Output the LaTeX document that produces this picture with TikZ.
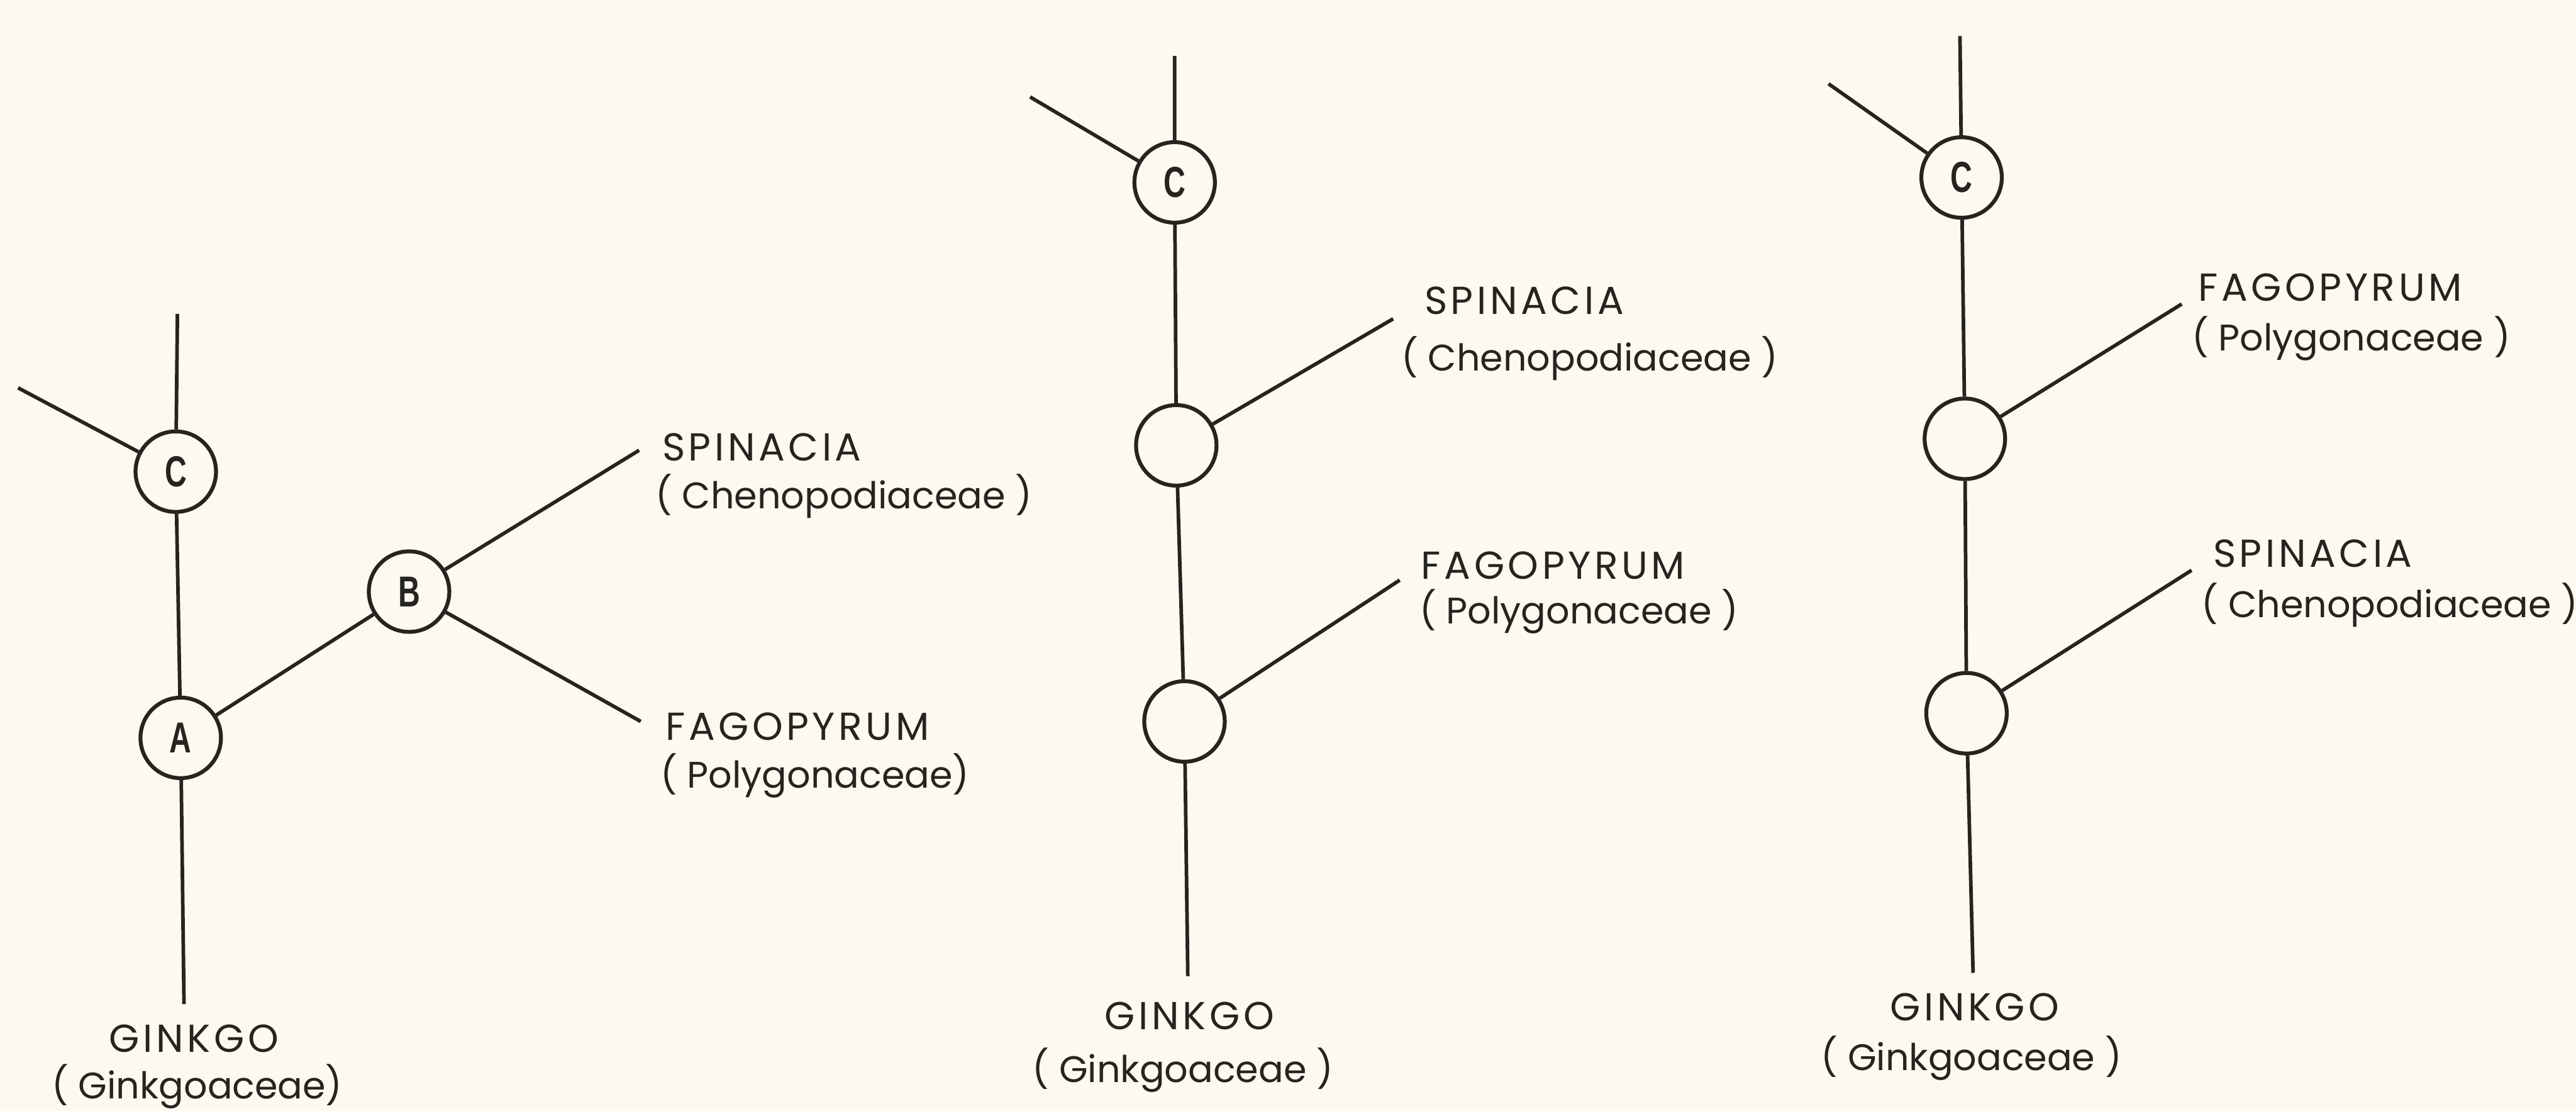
\documentclass[tikz,border=0pt]{standalone}
\usepackage{fontspec}
\setmainfont{Poppins}
\newfontfamily\namefont{Poppins}[LetterSpace=9]
\newfontfamily\familyfont{Poppins}
\newfontfamily\knotfont{Liberation Sans}
\usetikzlibrary{positioning}
\definecolor{paper}{RGB}{251,249,240}
\definecolor{ink}{RGB}{38,36,30}
\newcommand{\knotlabel}[1]{\scalebox{0.7}[1]{\knotfont\bfseries #1}}

\begin{document}
\begin{tikzpicture}[
  x=0.02cm, y=-0.02cm,
  color=ink, line width=1.25pt,
  knot/.style={draw, circle, minimum size=9.8mm, inner sep=0pt, line width=1.35pt, font=\fontsize{15}{15}\selectfont},
  genusname/.style={anchor=west, inner sep=0pt, font=\namefont\fontsize{13.5}{14}\selectfont},
  familyname/.style={anchor=west, inner sep=0pt, font=\familyfont\fontsize{12.8}{14}\selectfont},
  rootname/.style={genusname, anchor=center},
  rootfamily/.style={familyname, anchor=center}
]
\path[use as bounding box, fill=paper] (0,0) rectangle (1568,676);

\coordinate (top1) at (108,191);
\coordinate (out1) at (11,236);
\node[knot] (c1) at (107,287) {\knotlabel{C}};
\node[knot] (a1) at (110,449) {\knotlabel{A}};
\node[knot] (b1) at (249,360) {\knotlabel{B}};
\coordinate (root1) at (112,611);
\coordinate (spin1) at (389,274);
\coordinate (fago1) at (390,439);
\node[genusname] (spinname1) at (402,272) {SPINACIA};
\node[familyname] (spinfam1) at (398,302) {( Chenopodiaceae )};
\node[genusname] (faganame1) at (404,442) {FAGOPYRUM};
\node[familyname] (fagafam1) at (401,472) {( Polygonaceae)};
\node[rootname] (ginkname1) at (118,632) {GINKGO};
\node[rootfamily] (ginkfam1) at (120,661) {( Ginkgoaceae)};
\draw (top1) -- (c1) -- (a1) -- (root1);
\draw (out1) -- (c1);
\draw (a1) -- (b1) -- (spin1);
\draw (b1) -- (fago1);

\coordinate (top2) at (715,34);
\coordinate (out2) at (627,59);
\node[knot] (c2) at (715,111) {\knotlabel{C}};
\node[knot] (upper2) at (716,271) {};
\node[knot] (lower2) at (721,439) {};
\coordinate (root2) at (723,594);
\coordinate (spin2) at (848,194);
\coordinate (fago2) at (852,353);
\node[genusname] (spinname2) at (866,183) {SPINACIA};
\node[familyname] (spinfam2) at (852,218) {( Chenopodiaceae )};
\node[genusname] (faganame2) at (864,344) {FAGOPYRUM};
\node[familyname] (fagafam2) at (863,372) {( Polygonaceae )};
\node[rootname] (ginkname2) at (724,618) {GINKGO};
\node[rootfamily] (ginkfam2) at (720,651) {( Ginkgoaceae )};
\draw (top2) -- (c2) -- (upper2) -- (lower2) -- (root2);
\draw (out2) -- (c2);
\draw (upper2) -- (spin2);
\draw (lower2) -- (fago2);

\coordinate (top3) at (1193,22);
\coordinate (out3) at (1113,51);
\node[knot] (c3) at (1194,108) {\knotlabel{C}};
\node[knot] (upper3) at (1196,267) {};
\node[knot] (lower3) at (1197,434) {};
\coordinate (root3) at (1201,592);
\coordinate (fago3) at (1328,185);
\coordinate (spin3) at (1334,347);
\node[genusname] (faganame3) at (1337,175) {FAGOPYRUM};
\node[familyname] (fagafam3) at (1333,206) {( Polygonaceae )};
\node[genusname] (spinname3) at (1346,337) {SPINACIA};
\node[familyname] (spinfam3) at (1339,368) {( Chenopodiaceae )};
\node[rootname] (ginkname3) at (1202,613) {GINKGO};
\node[rootfamily] (ginkfam3) at (1200,644) {( Ginkgoaceae )};
\draw (top3) -- (c3) -- (upper3) -- (lower3) -- (root3);
\draw (out3) -- (c3);
\draw (upper3) -- (fago3);
\draw (lower3) -- (spin3);
\end{tikzpicture}
\end{document}
